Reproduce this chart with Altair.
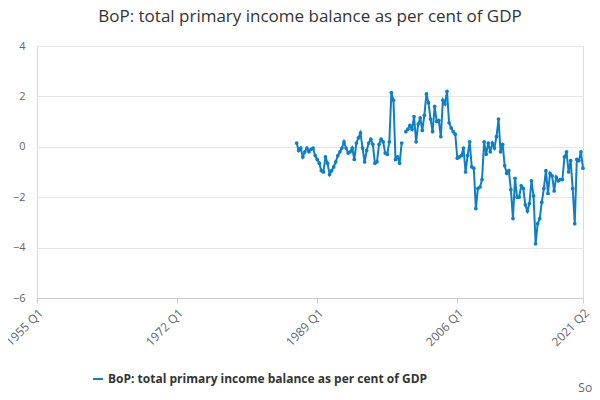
import altair as alt
import pandas as pd

SERIES = "BoP: total primary income balance as per cent of GDP"
BLUE = "#0f7fc4"

# quarterly values, 1987 Q1 .. 2021 Q2 (None = missing)
VALUES = [
    0.15, -0.15, -0.05, -0.4, -0.2, -0.05, -0.2, -0.1, -0.05, -0.35,
    -0.5, -0.65, -0.95, -1.0, -0.4, -0.65, -1.1, -0.95, -0.8, -0.6,
    -0.35, -0.2, -0.05, 0.2, -0.05, -0.25, -0.2, -0.05, -0.5, 0.15,
    0.35, 0.55, -0.05, -0.6, -0.15, 0.15, 0.3, 0.1, -0.65, -0.6,
    0.1, 0.3, 0.2, -0.25, -0.3, 0.2, 2.15, 1.85, -0.5, -0.4,
    -0.65, 0.15, None, 0.6, 0.7, 0.85, 0.7, 1.2, 0.2, 0.9,
    1.15, 0.65, 1.25, 2.1, 1.75, 1.1, 0.6, 1.6, 1.0, 1.05,
    0.4, 1.85, 1.7, 2.2, 0.95, 0.75, 0.6, 0.5, -0.45, -0.4,
    -0.35, -0.05, -1.0, -0.35, 0.2, -0.8, -0.85, -2.45, -1.65, -1.6,
    -1.3, 0.2, -0.3, 0.15, -0.2, 0.15, -0.05, 0.4, 1.1, -0.2,
    0.1, -0.75, -1.05, -0.95, -1.7, -2.85, -1.25, -2.0, -2.0, -1.55,
    -1.65, -2.3, -2.55, -2.25, -1.35, -1.95, -3.85, -3.05, -2.85, -2.2,
    -1.65, -0.95, -1.85, -1.05, -1.15, -1.75, -1.2, -1.35, -1.3, -1.3,
    -0.4, -0.2, -1.0, -0.55, -1.65, -3.05, -0.5, -0.55, -0.2, -0.85,
]
TICKS = ["1955 Q1", "1972 Q1", "1989 Q1", "2006 Q1", "2021 Q2"]

quarters = [f"{y} Q{q}" for y in range(1955, 2022) for q in range(1, 5)][:-2]
vals = [None] * (len(quarters) - len(VALUES)) + VALUES
df = pd.DataFrame({"quarter": quarters, "value": vals, "series": SERIES})

x = alt.X("quarter:N", sort=None, title=None,
          scale=alt.Scale(padding=0),
          axis=alt.Axis(values=TICKS, labelAngle=-45, labelAlign="right",
                        labelColor="#666", labelFontSize=12, domainColor="#ccc",
                        tickColor="#ccc", labelPadding=4, labelLimit=60))
y = alt.Y("value:Q", title=None, scale=alt.Scale(domain=[-6, 4]),
          axis=alt.Axis(values=[-6, -4, -2, 0, 2, 4], domain=False, ticks=False,
                        gridColor="#e6e6e6", labelColor="#666", labelFontSize=11,
                        labelPadding=12))
color = alt.Color("series:N", scale=alt.Scale(range=[BLUE]),
                  legend=alt.Legend(title=None, orient="none", legendX=55, legendY=327,
                                    symbolType="stroke", symbolStrokeWidth=2,
                                    labelFontSize=12, labelFontWeight="bold",
                                    labelColor="#333", labelLimit=500))

line = alt.Chart(df).mark_line(strokeWidth=2).encode(x=x, y=y, color=color)
pts = alt.Chart(df).mark_point(filled=True, size=14, opacity=1).encode(x=x, y=y, color=color)
src = alt.Chart(pd.DataFrame({"t": ["Source:"]})).mark_text(
    align="right", fontSize=12, color="#666").encode(
    x=alt.value(583), y=alt.value(342), text="t:N")

chart = (line + pts + src).properties(
    width=546, height=252,
    autosize=alt.AutoSizeParams(type="none"),
    padding={"left": 29, "top": 38, "right": 9, "bottom": 94},
    title=alt.Title("BoP: total primary income balance as per cent of GDP",
                    fontSize=17, fontWeight="normal", color="#333", offset=14),
).configure_view(stroke=None).configure(font="Open Sans")

chart.save("out.html", embed_options={"renderer": "svg", "actions": False})
